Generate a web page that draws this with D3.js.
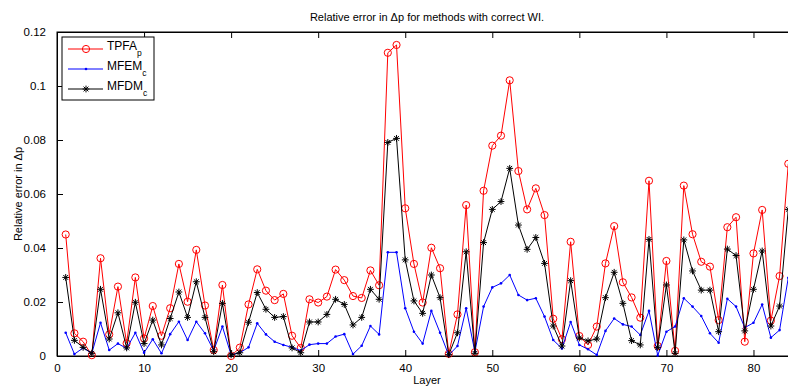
<!DOCTYPE html>
<html>
<head>
<meta charset="utf-8">
<script src="https://cdn.jsdelivr.net/npm/d3@7"></script>
<style>
  html, body { margin: 0; padding: 0; background: #fff; }
  svg { display: block; font-family: "Liberation Sans", Arial, Helvetica, sans-serif; }
</style>
</head>
<body>
<svg id="chart" width="788" height="386"></svg>
<script>
// Relative error in Δp per layer for the three discretisations
const layers = d3.range(1, 85);

const tpfaP = [
  0.0450, 0.0084, 0.0053, 0.0003, 0.0362, 0.0080, 0.0257, 0.0047, 0.0291, 0.0065,
  0.0185, 0.0075, 0.0177, 0.0341, 0.0201, 0.0393, 0.0187, 0.0022, 0.0263, 0.0000,
  0.0031, 0.0191, 0.0321, 0.0242, 0.0207, 0.0230, 0.0075, 0.0030, 0.0210, 0.0198,
  0.0220, 0.0320, 0.0281, 0.0222, 0.0215, 0.0317, 0.0262, 0.1123, 0.1152, 0.0547,
  0.0341, 0.0198, 0.0401, 0.0325, 0.0008, 0.0154, 0.0559, 0.0014, 0.0612, 0.0779,
  0.0816, 0.1021, 0.0685, 0.0543, 0.0621, 0.0522, 0.0138, 0.0062, 0.0423, 0.0074,
  0.0041, 0.0109, 0.0343, 0.0481, 0.0273, 0.0217, 0.0142, 0.0649, 0.0037, 0.0352,
  0.0019, 0.0631, 0.0451, 0.0349, 0.0331, 0.0133, 0.0477, 0.0514, 0.0053, 0.0380,
  0.0541, 0.0131, 0.0296, 0.0712
];

const mfemC = [
  0.0086, 0.0007, 0.0030, 0.0010, 0.0123, 0.0022, 0.0046, 0.0028, 0.0086, 0.0012,
  0.0062, 0.0010, 0.0081, 0.0127, 0.0059, 0.0127, 0.0084, 0.0020, 0.0109, 0.0004,
  0.0012, 0.0032, 0.0121, 0.0080, 0.0053, 0.0041, 0.0032, 0.0020, 0.0042, 0.0046,
  0.0046, 0.0072, 0.0081, 0.0007, 0.0038, 0.0111, 0.0080, 0.0384, 0.0384, 0.0177,
  0.0090, 0.0046, 0.0167, 0.0086, 0.0003, 0.0037, 0.0177, 0.0015, 0.0183, 0.0254,
  0.0269, 0.0300, 0.0226, 0.0207, 0.0214, 0.0146, 0.0059, 0.0028, 0.0126, 0.0041,
  0.0025, 0.0004, 0.0093, 0.0139, 0.0117, 0.0109, 0.0078, 0.0167, 0.0002, 0.0090,
  0.0109, 0.0214, 0.0183, 0.0148, 0.0084, 0.0049, 0.0212, 0.0183, 0.0105, 0.0123,
  0.0191, 0.0068, 0.0096, 0.0290
];

const mfdmC = [
  0.0291, 0.0058, 0.0032, 0.0010, 0.0247, 0.0063, 0.0160, 0.0030, 0.0199, 0.0046,
  0.0133, 0.0041, 0.0139, 0.0237, 0.0143, 0.0275, 0.0143, 0.0016, 0.0195, 0.0004,
  0.0012, 0.0125, 0.0235, 0.0173, 0.0143, 0.0146, 0.0030, 0.0012, 0.0126, 0.0126,
  0.0154, 0.0210, 0.0191, 0.0115, 0.0143, 0.0247, 0.0210, 0.0791, 0.0806, 0.0356,
  0.0204, 0.0158, 0.0300, 0.0216, 0.0005, 0.0086, 0.0386, 0.0010, 0.0420, 0.0543,
  0.0572, 0.0695, 0.0485, 0.0395, 0.0439, 0.0343, 0.0111, 0.0037, 0.0279, 0.0067,
  0.0056, 0.0063, 0.0216, 0.0310, 0.0195, 0.0057, 0.0041, 0.0432, 0.0031, 0.0263,
  0.0010, 0.0430, 0.0315, 0.0244, 0.0244, 0.0090, 0.0396, 0.0372, 0.0093, 0.0247,
  0.0389, 0.0111, 0.0185, 0.0543
];

const xTicks = [0, 10, 20, 30, 40, 50, 60, 70, 80];
const yTicks = [0, 0.02, 0.04, 0.06, 0.08, 0.1, 0.12];

const titleText = "Relative error in \u0394p for methods with correct WI.";
const xLabel = "Layer";
const yLabel = "Relative error in \u0394p";

const series = [
  { name: "TPFA", sub: "p", values: tpfaP, color: "#ff0000", marker: "circle" },
  { name: "MFEM", sub: "c", values: mfemC, color: "#0000ff", marker: "dot" },
  { name: "MFDM", sub: "c", values: mfdmC, color: "#000000", marker: "star" }
];

const margin = { left: 57, top: 32, right: 797, bottom: 356 };
const svg = d3.select("#chart");

const x = d3.scaleLinear().domain([0, 85]).range([margin.left, margin.right]);
const y = d3.scaleLinear().domain([0, 0.12]).range([margin.bottom, margin.top]);

const fmtY = v => (v === 0 ? "0" : String(+v.toFixed(2)));
const tickLen = 6;

// frame
svg.append("rect")
  .attr("x", margin.left).attr("y", margin.top)
  .attr("width", margin.right - margin.left).attr("height", margin.bottom - margin.top)
  .attr("fill", "#fff").attr("stroke", "#000").attr("stroke-width", 1);

// bottom axis, ticks pointing inward
const xAxis = svg.append("g")
  .attr("transform", `translate(0,${margin.bottom})`)
  .call(d3.axisBottom(x).tickValues(xTicks).tickSize(-tickLen).tickPadding(tickLen + 9).tickSizeOuter(0));
// top axis ticks
const xTop = svg.append("g")
  .attr("transform", `translate(0,${margin.top})`)
  .call(d3.axisTop(x).tickValues(xTicks).tickSize(-tickLen).tickFormat("").tickSizeOuter(0));
// left axis, ticks pointing inward
const yAxis = svg.append("g")
  .attr("transform", `translate(${margin.left},0)`)
  .call(d3.axisLeft(y).tickValues(yTicks).tickFormat(fmtY).tickSize(-tickLen).tickPadding(tickLen + 5).tickSizeOuter(0));
// right axis ticks
svg.append("g")
  .attr("transform", `translate(${margin.right},0)`)
  .call(d3.axisRight(y).tickValues(yTicks).tickFormat("").tickSize(-tickLen).tickSizeOuter(0));

svg.selectAll(".domain").attr("stroke", "#000").attr("stroke-width", 1);
svg.selectAll(".tick line").attr("stroke", "#000").attr("stroke-width", 1);
svg.selectAll(".tick text")
  .attr("font-family", "'Liberation Sans', Arial, sans-serif")
  .attr("font-size", 11.5).attr("fill", "#000");
xAxis.selectAll(".tick text").attr("dy", "0.1em");

const line = d3.line().x((d, i) => x(layers[i])).y(d => y(d));

const starPath = r => {
  const a = r * Math.SQRT1_2;
  return `M${-r},0L${r},0M0,${-r}L0,${r}M${-a},${-a}L${a},${a}M${-a},${a}L${a},${-a}`;
};

function drawMarker(g, type, color, cx, cy) {
  if (type === "circle") {
    g.append("circle").attr("cx", cx).attr("cy", cy).attr("r", 3.6)
      .attr("fill", "none").attr("stroke", color).attr("stroke-width", 1);
  } else if (type === "dot") {
    g.append("circle").attr("cx", cx).attr("cy", cy).attr("r", 1.3).attr("fill", color);
  } else {
    g.append("path").attr("transform", `translate(${cx},${cy})`).attr("d", starPath(3.4))
      .attr("fill", "none").attr("stroke", color).attr("stroke-width", 1);
  }
}

const plot = svg.append("g");
series.forEach(s => {
  plot.append("path").datum(s.values)
    .attr("d", line).attr("fill", "none").attr("stroke", s.color).attr("stroke-width", 1);
  const mg = plot.append("g");
  s.values.forEach((v, i) => drawMarker(mg, s.marker, s.color, x(layers[i]), y(v)));
});

// title and axis labels
svg.append("text").attr("x", (margin.left + margin.right) / 2).attr("y", 21)
  .attr("text-anchor", "middle").attr("font-size", 11).text(titleText);
svg.append("text").attr("x", (margin.left + margin.right) / 2).attr("y", 384)
  .attr("text-anchor", "middle").attr("font-size", 11).text(xLabel);
svg.append("text").attr("transform", `translate(22,${(margin.top + margin.bottom) / 2}) rotate(-90)`)
  .attr("text-anchor", "middle").attr("font-size", 11).text(yLabel);

// legend
const lg = svg.append("g");
lg.append("rect").attr("x", 62).attr("y", 37).attr("width", 92).attr("height", 63)
  .attr("fill", "#fff").attr("stroke", "#000").attr("stroke-width", 1);
series.forEach((s, k) => {
  const ly = 49 + k * 20;
  lg.append("line").attr("x1", 68).attr("x2", 103).attr("y1", ly).attr("y2", ly)
    .attr("stroke", s.color).attr("stroke-width", 1);
  drawMarker(lg, s.marker, s.color, 86, ly);
  const t = lg.append("text").attr("x", 107).attr("y", ly + 1).attr("font-size", 12);
  t.append("tspan").text(s.name);
  t.append("tspan").attr("dy", 5.5).attr("font-size", 8.5).text(s.sub);
});
</script>
</body>
</html>
